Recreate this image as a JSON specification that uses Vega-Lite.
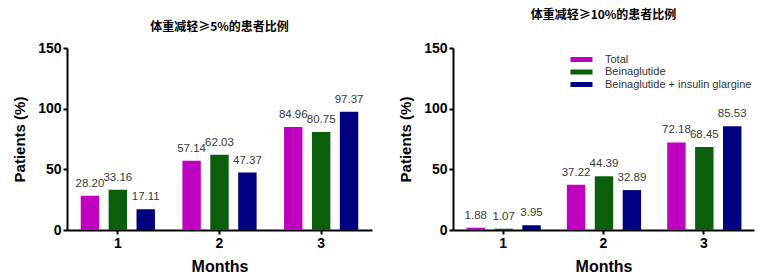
{
  "$schema": "https://vega.github.io/schema/vega-lite/v6.json",
  "background": "white",
  "padding": {"left": 12, "top": 9, "right": 5, "bottom": 2},
  "spacing": 26,
  "config": {
    "view": {"stroke": null},
    "axis": {
      "grid": false,
      "domainColor": "black",
      "domainWidth": 2,
      "tickColor": "black",
      "tickWidth": 2,
      "tickSize": 4,
      "labelFont": "Liberation Sans",
      "labelFontWeight": "bold",
      "labelFontSize": 14,
      "labelColor": "black",
      "labelPadding": 2,
      "titleFont": "Liberation Sans",
      "titleFontWeight": "bold",
      "titleFontSize": 15,
      "titleColor": "black"
    },
    "title": {"font": "Noto Sans CJK SC", "fontSize": 12, "fontWeight": "bold", "color": "black"}
  },
  "data": {
    "values": [
      {"panel": "a", "month": "1", "group": "Total", "value": 28.20},
      {"panel": "a", "month": "1", "group": "Beinaglutide", "value": 33.16},
      {"panel": "a", "month": "1", "group": "Beinaglutide + insulin glargine", "value": 17.11},
      {"panel": "a", "month": "2", "group": "Total", "value": 57.14},
      {"panel": "a", "month": "2", "group": "Beinaglutide", "value": 62.03},
      {"panel": "a", "month": "2", "group": "Beinaglutide + insulin glargine", "value": 47.37},
      {"panel": "a", "month": "3", "group": "Total", "value": 84.96},
      {"panel": "a", "month": "3", "group": "Beinaglutide", "value": 80.75},
      {"panel": "a", "month": "3", "group": "Beinaglutide + insulin glargine", "value": 97.37},
      {"panel": "b", "month": "1", "group": "Total", "value": 1.88},
      {"panel": "b", "month": "1", "group": "Beinaglutide", "value": 1.07},
      {"panel": "b", "month": "1", "group": "Beinaglutide + insulin glargine", "value": 3.95},
      {"panel": "b", "month": "2", "group": "Total", "value": 37.22},
      {"panel": "b", "month": "2", "group": "Beinaglutide", "value": 44.39},
      {"panel": "b", "month": "2", "group": "Beinaglutide + insulin glargine", "value": 32.89},
      {"panel": "b", "month": "3", "group": "Total", "value": 72.18},
      {"panel": "b", "month": "3", "group": "Beinaglutide", "value": 68.45},
      {"panel": "b", "month": "3", "group": "Beinaglutide + insulin glargine", "value": 85.53}
    ]
  },
  "resolve": {"scale": {"color": "independent"}},
  "hconcat": [
    {
      "title": {"text": "体重减轻≥5%的患者比例", "offset": 7},
      "width": 305,
      "height": 182,
      "transform": [{"filter": "datum.panel == 'a'"}],
      "encoding": {
        "x": {"field": "month", "type": "nominal", "scale": {"paddingInner": 0.27, "paddingOuter": 0.135},
              "axis": {"title": "Months", "labelAngle": 0, "titlePadding": 8, "titleFontSize": 16}},
        "xOffset": {"field": "group", "type": "nominal", "sort": ["Total", "Beinaglutide", "Beinaglutide + insulin glargine"], "scale": {"paddingInner": 0.34, "paddingOuter": 0}},
        "y": {"field": "value", "type": "quantitative", "scale": {"domain": [0, 150]},
              "axis": {"title": "Patients (%)", "values": [0, 50, 100, 150], "titlePadding": 10}}
      },
      "layer": [
        {
          "mark": {"type": "bar"},
          "encoding": {
            "color": {"field": "group", "type": "nominal", "sort": ["Total", "Beinaglutide", "Beinaglutide + insulin glargine"],
                      "scale": {"domain": ["Total", "Beinaglutide", "Beinaglutide + insulin glargine"], "range": ["#c000c0", "#0b5e0b", "#000080"]},
                      "legend": null}
          }
        },
        {
          "mark": {"type": "text", "baseline": "bottom", "dy": -7, "font": "Liberation Sans", "fontSize": 11.5, "color": "#3a3a3a"},
          "encoding": {"text": {"field": "value", "type": "quantitative", "format": ".2f"}}
        }
      ]
    },
    {
      "title": {"text": "体重减轻≥10%的患者比例", "offset": 19},
      "width": 301,
      "height": 182,
      "transform": [{"filter": "datum.panel == 'b'"}],
      "encoding": {
        "x": {"field": "month", "type": "nominal", "scale": {"paddingInner": 0.27, "paddingOuter": 0.135},
              "axis": {"title": "Months", "labelAngle": 0, "titlePadding": 8, "titleFontSize": 16}},
        "xOffset": {"field": "group", "type": "nominal", "sort": ["Total", "Beinaglutide", "Beinaglutide + insulin glargine"], "scale": {"paddingInner": 0.34, "paddingOuter": 0}},
        "y": {"field": "value", "type": "quantitative", "scale": {"domain": [0, 150]},
              "axis": {"title": "Patients (%)", "values": [0, 50, 100, 150], "titlePadding": 10}}
      },
      "layer": [
        {
          "mark": {"type": "bar"},
          "encoding": {
            "color": {"field": "group", "type": "nominal", "sort": ["Total", "Beinaglutide", "Beinaglutide + insulin glargine"],
                      "scale": {"domain": ["Total", "Beinaglutide", "Beinaglutide + insulin glargine"], "range": ["#c000c0", "#0b5e0b", "#000080"]},
                      "legend": {"orient": "none", "legendX": 123, "legendY": 6, "title": null,
                                 "symbolType": "M-2.2,-0.5H2.2V0.5H-2.2Z", "symbolSize": 100, "symbolStrokeWidth": 0,
                                 "labelFont": "Liberation Sans", "labelFontSize": 11, "labelColor": "#333333",
                                 "labelOffset": 18, "rowPadding": 0.5}}
          }
        },
        {
          "mark": {"type": "text", "baseline": "bottom", "dy": -7, "font": "Liberation Sans", "fontSize": 11.5, "color": "#3a3a3a"},
          "encoding": {"text": {"field": "value", "type": "quantitative", "format": ".2f"}}
        }
      ]
    }
  ]
}
